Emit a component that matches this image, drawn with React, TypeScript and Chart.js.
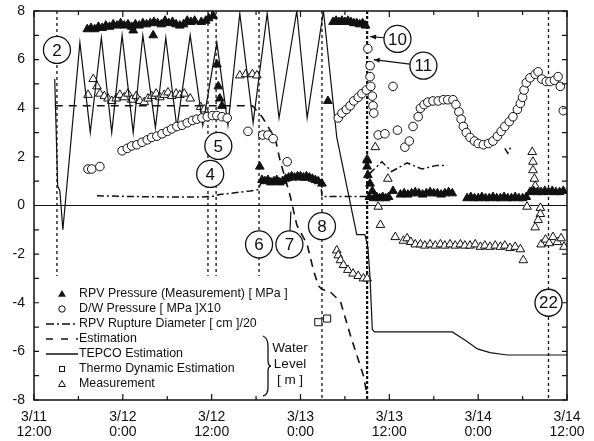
import React, { useEffect, useRef } from "react";
import { Chart, registerables } from "chart.js";

Chart.register(...registerables);

// x = hours after 3/11 12:00, y = value on the left axis
const xTickLabels = [
  ["3/11", "12:00"],
  ["3/12", "0:00"],
  ["3/12", "12:00"],
  ["3/13", "0:00"],
  ["3/13", "12:00"],
  ["3/14", "0:00"],
  ["3/14", "12:00"],
];

const legendLabels = [
  "RPV Pressure (Measurement) [ MPa ]",
  "D/W Pressure [ MPa ]X10",
  "RPV Rupture Diameter [ cm ]/20",
  "Estimation",
  "TEPCO Estimation",
  "Thermo Dynamic Estimation",
  "Measurement",
];
const waterLevelLabel = ["Water", "Level", "[ m ]"];

const rpvPressure: [number, number][] = [
  [7.2, 7.25], [7.7, 7.3], [8.2, 7.25], [8.7, 7.35], [9.2, 7.3], [9.7, 7.4], [10.2, 7.35], [10.7, 7.45],
  [11.2, 7.4], [11.7, 7.5], [12.2, 7.4], [12.7, 7.45], [13.2, 7.35], [13.4, 7.2], [13.7, 7.45], [14.2, 7.4],
  [14.7, 7.5], [15.2, 7.45], [15.7, 7.5], [16.1, 7.0], [16.2, 7.55], [16.7, 7.5], [17.2, 7.45], [17.7, 7.6],
  [18.2, 7.5], [18.7, 7.55], [19.2, 7.45], [19.7, 7.4], [20.2, 7.45], [20.7, 7.6], [21.2, 7.55], [21.7, 7.6],
  [22.6, 7.55], [23.2, 7.6], [23.6, 7.7], [24.2, 7.8], [24.7, 5.8], [24.9, 4.9], [25.1, 4.4], [25.4, 4.1],
  [30.5, 1.6], [30.8, 1.05], [31.2, 1.0], [31.6, 1.05], [32.0, 0.95], [32.4, 1.0], [32.8, 1.05], [33.2, 0.95],
  [33.6, 1.0], [34.0, 1.1], [34.4, 1.15], [34.8, 1.2], [35.2, 1.15], [35.6, 1.2], [36.0, 1.2], [36.4, 1.15],
  [36.8, 1.2], [37.2, 1.15], [37.6, 1.1], [38.0, 1.05], [38.4, 1.0], [38.9, 0.9],
  [39.7, 4.3], [40.4, 7.55], [40.8, 7.6], [41.2, 7.55], [41.6, 7.6], [42.0, 7.55], [42.4, 7.6], [42.8, 7.55],
  [43.2, 7.5], [43.6, 7.5], [44.0, 7.45], [44.4, 7.5], [44.8, 7.4],
  [45.0, 1.85], [45.0, 1.6], [45.1, 1.25], [45.4, 0.9], [45.7, 0.6], [45.3, 0.35], [45.9, 0.3], [46.3, 0.35],
  [46.7, 0.3], [47.1, 0.35], [47.5, 0.3], [47.9, 0.35], [48.5, 0.6],
  [49.5, 0.45], [50.0, 0.5], [50.5, 0.45], [51.0, 0.5], [51.5, 0.55], [52.0, 0.5], [52.5, 0.45], [53.0, 0.5],
  [53.5, 0.55], [54.0, 0.5], [54.5, 0.5], [55.0, 0.45], [55.5, 0.5], [56.0, 0.55], [56.5, 0.5],
  [58.5, 0.3], [59.0, 0.35], [59.5, 0.3], [60.0, 0.3], [60.5, 0.35], [61.0, 0.3], [61.5, 0.3], [62.0, 0.35],
  [62.5, 0.3], [63.0, 0.3], [63.5, 0.35], [64.0, 0.3], [64.5, 0.3], [65.0, 0.35], [65.5, 0.3], [66.0, 0.3],
  [66.5, 0.35], [67.0, 0.55], [67.5, 0.6], [68.0, 0.55], [68.5, 0.55], [69.0, 0.6], [69.5, 0.55], [70.0, 0.6],
  [70.5, 0.55], [71.0, 0.55], [71.5, 0.6],
];

const dwPressure: [number, number][] = [
  [7.3, 1.5], [7.8, 1.5], [8.9, 1.6],
  [11.9, 2.25], [12.6, 2.35], [13.2, 2.45], [13.9, 2.5], [14.6, 2.6], [15.3, 2.7], [15.9, 2.8], [16.6, 2.85],
  [17.3, 2.95], [18.0, 3.05], [18.6, 3.15], [19.3, 3.25], [20.0, 3.3], [20.7, 3.4], [21.4, 3.5], [22.0, 3.55],
  [22.7, 3.6], [23.4, 3.65], [24.1, 3.7], [24.7, 3.7], [25.4, 3.65], [26.1, 3.6],
  [28.9, 3.05], [30.9, 2.9], [31.6, 2.9], [32.3, 2.75], [34.2, 1.8],
  [41.1, 3.6], [41.6, 3.8], [42.2, 3.95], [42.7, 4.1], [43.2, 4.3], [43.8, 4.45], [44.3, 4.6], [44.9, 4.75],
  [45.1, 6.45], [45.4, 5.75], [45.4, 5.3], [45.5, 4.9], [45.7, 4.5], [45.8, 4.1], [45.9, 3.8],
  [48.5, 4.9], [46.5, 2.9], [47.4, 2.95], [49.1, 3.1], [50.1, 2.4], [50.7, 2.65], [51.2, 3.25], [51.9, 3.65],
  [52.2, 4.0], [52.7, 4.15], [53.2, 4.25], [53.9, 4.3], [54.6, 4.3], [55.3, 4.35], [55.9, 4.35], [56.6, 4.35],
  [57.0, 4.15], [57.4, 3.85], [57.7, 3.55], [58.0, 3.25], [58.4, 3.0], [58.9, 2.8], [59.5, 2.65], [60.0, 2.55],
  [60.7, 2.5], [61.4, 2.55], [62.0, 2.65], [62.6, 2.85], [63.1, 3.05], [63.6, 3.25], [64.2, 3.45], [64.7, 3.65],
  [65.3, 3.95], [65.7, 4.2], [66.0, 4.45], [66.2, 4.75], [66.5, 5.05], [67.0, 5.25], [67.7, 5.4], [68.1, 5.5],
  [68.6, 5.2], [69.2, 5.1], [69.7, 5.1], [70.3, 5.15], [70.8, 5.3], [71.1, 4.9], [71.5, 3.9],
];

const ruptureDiameter: [number, number | null][] = [
  [8.5, 0.4], [13.0, 0.37], [18.0, 0.35], [22.4, 0.35], [24.2, 0.38], [25.1, 0.45], [29.2, 0.6], [30.3, 0.65],
  [30.8, 1.05], [38.7, 1.05], [38.9, 0.37], [44.9, 0.37], [45.3, 1.3], [47.0, 1.8], [48.3, 1.4], [50.4, 1.75],
  [52.4, 1.5], [54.4, 1.65], [55.8, 1.65], [56.0, null], [63.6, 2.35], [64.0, 2.15], [64.4, 2.4],
];

const estimation: [number, number][] = [
  [2.8, 4.1], [29.5, 4.1], [30.8, 3.65], [32.6, 2.75], [33.2, 1.9], [34.6, 0.4], [35.5, -0.8], [36.9, -1.6],
  [37.7, -2.6], [38.4, -3.3], [38.9, -3.45], [40.0, -3.55], [41.4, -3.95], [42.7, -5.3], [43.6, -6.15],
  [44.5, -7.0], [45.0, -7.8],
];

const tepcoEstimation: [number, number][] = [
  [2.8, 5.2], [3.2, 0.8], [3.5, 0.6], [3.9, -1.0], [6.2, 6.7], [7.6, 3.0], [9.1, 6.9], [10.5, 3.0], [11.9, 7.0],
  [13.4, 3.0], [14.7, 7.0], [16.4, 3.2], [17.8, 6.9], [19.3, 3.2], [21.1, 7.0], [22.8, 3.3], [24.7, 6.7],
  [26.2, 3.3], [27.8, 7.9], [29.6, 3.4], [31.5, 7.9], [33.1, 3.6], [35.5, 8.0], [36.9, 3.6], [39.1, 8.0],
  [40.9, 2.8], [43.6, -1.2], [44.7, -1.2], [45.1, -1.7], [45.4, -3.0], [45.7, -5.1], [46.0, -5.2], [56.5, -5.2],
  [58.3, -5.55], [59.9, -5.9], [61.6, -6.05], [63.9, -6.15], [72.0, -6.15],
];

const thermoDynamic: [number, number][] = [[38.4, -4.8], [39.6, -4.65]];

const levelMeasurement: [number, number][] = [
  [7.3, 4.55], [8.0, 5.2], [8.5, 4.9], [8.9, 4.6], [9.5, 4.5], [10.0, 4.4], [10.5, 4.3], [11.1, 4.4], [11.6, 4.55],
  [12.2, 4.45], [12.7, 4.6], [13.2, 4.35], [13.8, 4.5], [14.3, 4.3], [14.9, 4.25], [15.4, 4.4], [15.9, 4.5],
  [16.5, 4.6], [17.0, 4.45], [17.6, 4.55], [18.1, 4.65], [18.6, 4.5], [19.2, 4.6], [19.7, 4.55], [20.3, 4.6],
  [21.1, 4.4], [22.5, 4.05], [23.0, 3.95],
  [27.8, 5.35], [28.6, 5.4], [29.5, 5.4], [30.1, 5.35],
  [40.9, -1.85], [41.1, -2.05], [41.4, -2.25], [41.8, -2.45], [42.4, -2.65], [43.1, -2.8], [43.8, -2.9],
  [44.5, -3.0], [45.0, -3.0],
  [45.0, 1.9], [46.1, 2.4], [47.8, 1.1], [46.5, -0.05], [46.8, -0.8], [48.8, -1.3], [49.9, -1.45], [50.4, -1.35],
  [50.9, -1.5], [51.5, -1.6], [52.2, -1.6], [52.8, -1.65], [53.5, -1.6], [54.2, -1.65], [54.9, -1.6], [55.5, -1.65],
  [56.2, -1.6], [56.9, -1.65], [57.6, -1.6], [58.2, -1.65], [58.9, -1.65], [59.6, -1.6], [60.3, -1.7], [60.9, -1.65],
  [61.6, -1.7], [62.3, -1.65], [63.0, -1.7], [63.6, -1.65], [64.3, -1.75], [65.0, -1.7], [65.7, -1.8], [66.1, -2.25],
  [67.3, 2.2], [67.4, 1.8], [67.4, 1.45], [67.6, 1.1], [67.7, 0.8], [66.6, -0.05], [68.4, -0.1], [68.4, -0.35],
  [68.1, -0.6], [67.7, -0.9], [68.5, -1.6], [69.1, -1.4], [69.6, -1.55], [70.1, -1.3], [70.7, -1.5], [71.2, -1.35],
  [71.6, -1.7],
];

// numbered events: dashed time lines and circled labels
const eventLines = [
  { hour: 3.1, from: 8, to: -2.9, heavy: false },
  { hour: 23.5, from: 8, to: -2.9, heavy: false },
  { hour: 24.6, from: 8, to: -2.9, heavy: false },
  { hour: 30.4, from: 8, to: -2.9, heavy: false },
  { hour: 38.9, from: 8, to: -8, heavy: false },
  { hour: 45.0, from: 8, to: -8, heavy: true },
  { hour: 69.5, from: 8, to: -8, heavy: false },
];

const eventCircles = [
  { label: "2", hour: 3.1, level: 6.4 },
  { label: "5", hour: 24.9, level: 2.45 },
  { label: "4", hour: 23.8, level: 1.3 },
  { label: "6", hour: 30.4, level: -1.6 },
  { label: "7", hour: 34.5, level: -1.6, pointTo: [34.7, -0.25], arrow: false },
  { label: "8", hour: 38.9, level: -0.85 },
  { label: "10", hour: 49.1, level: 6.85, pointTo: [45.4, 6.95], arrow: true },
  { label: "11", hour: 52.6, level: 5.75, pointTo: [45.9, 6.0], arrow: true },
  { label: "22", hour: 69.5, level: -4.0 },
];

const FONT = '"Liberation Sans", Arial, sans-serif';
const INK = "#111";

const toPoints = (arr: [number, number | null][]) => arr.map(([h, v]) => ({ x: h, y: v }));

function triangle(ctx: CanvasRenderingContext2D, cx: number, cy: number, r: number) {
  ctx.beginPath();
  ctx.moveTo(cx, cy - r);
  ctx.lineTo(cx + r * 0.866, cy + r * 0.5);
  ctx.lineTo(cx - r * 0.866, cy + r * 0.5);
  ctx.closePath();
}

const decorPlugin = {
  id: "decor",
  beforeDatasetsDraw(chart: any) {
    const { ctx, chartArea: a, scales } = chart;
    const { x, y } = scales;
    ctx.save();
    ctx.strokeStyle = INK;
    ctx.lineWidth = 1;
    const y0 = y.getPixelForValue(0);
    ctx.beginPath();
    ctx.moveTo(a.left, y0);
    ctx.lineTo(a.right, y0);
    ctx.stroke();
    for (const e of eventLines) {
      ctx.setLineDash(e.heavy ? [3, 2] : [3, 3]);
      ctx.lineWidth = e.heavy ? 2.2 : 1.3;
      const px = x.getPixelForValue(e.hour);
      ctx.beginPath();
      ctx.moveTo(px, y.getPixelForValue(e.from));
      ctx.lineTo(px, y.getPixelForValue(e.to));
      ctx.stroke();
    }
    ctx.restore();
  },
  afterDatasetsDraw(chart: any) {
    const { ctx, chartArea: a, scales } = chart;
    const { x, y } = scales;
    ctx.save();
    ctx.strokeStyle = INK;
    ctx.fillStyle = INK;

    // frame
    ctx.lineWidth = 1.5;
    ctx.strokeRect(a.left, a.top, a.right - a.left, a.bottom - a.top);

    // inward ticks on all four sides
    ctx.lineWidth = 1.2;
    for (let h = 0; h <= 72; h += 6) {
      const px = x.getPixelForValue(h);
      const len = h % 12 === 0 ? 6 : 4;
      ctx.beginPath();
      ctx.moveTo(px, a.bottom);
      ctx.lineTo(px, a.bottom - len);
      ctx.moveTo(px, a.top);
      ctx.lineTo(px, a.top + len);
      ctx.stroke();
    }
    for (let v = -8; v <= 8; v += 1) {
      const py = y.getPixelForValue(v);
      ctx.beginPath();
      ctx.moveTo(a.left, py);
      ctx.lineTo(a.left + 5, py);
      ctx.moveTo(a.right, py);
      ctx.lineTo(a.right - 5, py);
      ctx.stroke();
    }

    // circled event numbers
    const r = 13.5;
    ctx.font = `17px ${FONT}`;
    ctx.textAlign = "center";
    ctx.textBaseline = "middle";
    for (const c of eventCircles) {
      const cx = x.getPixelForValue(c.hour);
      const cy = y.getPixelForValue(c.level);
      if (c.pointTo) {
        const tx = x.getPixelForValue(c.pointTo[0]);
        const ty = y.getPixelForValue(c.pointTo[1]);
        const d = Math.hypot(tx - cx, ty - cy);
        const ux = (tx - cx) / d;
        const uy = (ty - cy) / d;
        ctx.lineWidth = 1.2;
        ctx.beginPath();
        ctx.moveTo(cx + ux * r, cy + uy * r);
        ctx.lineTo(tx, ty);
        ctx.stroke();
        if (c.arrow) {
          ctx.beginPath();
          ctx.moveTo(tx, ty);
          ctx.lineTo(tx - ux * 6 - uy * 2.5, ty - uy * 6 + ux * 2.5);
          ctx.lineTo(tx - ux * 6 + uy * 2.5, ty - uy * 6 - ux * 2.5);
          ctx.closePath();
          ctx.fill();
        }
      }
      ctx.beginPath();
      ctx.arc(cx, cy, r, 0, Math.PI * 2);
      ctx.fillStyle = "#fff";
      ctx.fill();
      ctx.lineWidth = 1.3;
      ctx.stroke();
      ctx.fillStyle = INK;
      ctx.fillText(c.label, cx, cy + 1);
    }

    // legend inside the plot, lower left
    const sx = a.left + 28;
    const l0 = a.left + 12;
    const l1 = a.left + 44;
    const tx = a.left + 44;
    const rows = [294, 309, 324, 339, 354, 369, 384];
    ctx.font = `12.4px ${FONT}`;
    ctx.textAlign = "left";
    ctx.textBaseline = "middle";
    legendLabels.forEach((label, i) => {
      const ry = rows[i];
      ctx.lineWidth = 1;
      ctx.setLineDash([]);
      if (i === 0) {
        triangle(ctx, sx, ry + 0.5, 4.5);
        ctx.fill();
      } else if (i === 1) {
        ctx.beginPath();
        ctx.arc(sx, ry, 3.2, 0, Math.PI * 2);
        ctx.stroke();
      } else if (i === 5) {
        ctx.strokeRect(sx - 2.5, ry - 2.5, 5, 5);
      } else if (i === 6) {
        triangle(ctx, sx, ry + 0.5, 4);
        ctx.stroke();
      } else {
        ctx.lineWidth = 1.5;
        ctx.setLineDash(i === 2 ? [8, 3, 2, 3] : i === 3 ? [7, 8] : []);
        ctx.beginPath();
        ctx.moveTo(l0, ry);
        ctx.lineTo(l1, ry);
        ctx.stroke();
        ctx.setLineDash([]);
      }
      ctx.fillText(label, tx + 1, ry);
    });

    // brace and "Water Level [ m ]"
    const bx = 263;
    ctx.lineWidth = 1.3;
    ctx.beginPath();
    ctx.moveTo(bx, 336);
    ctx.quadraticCurveTo(bx + 5, 338, bx + 5, 346);
    ctx.lineTo(bx + 5, 360);
    ctx.quadraticCurveTo(bx + 5, 366, bx + 8, 366);
    ctx.quadraticCurveTo(bx + 5, 366, bx + 5, 372);
    ctx.lineTo(bx + 5, 387);
    ctx.quadraticCurveTo(bx + 5, 395, bx, 396);
    ctx.stroke();
    ctx.font = `13.5px ${FONT}`;
    ctx.textAlign = "center";
    waterLevelLabel.forEach((t, i) => ctx.fillText(t, 290, 348 + i * 16));
    ctx.restore();
  },
};

const App: React.FC = () => {
  const canvasRef = useRef<HTMLCanvasElement>(null);

  useEffect(() => {
    const canvas = canvasRef.current;
    if (!canvas) return;
    const tickFont = { family: FONT, size: 14 };

    const chart = new Chart(canvas, {
      type: "scatter",
      data: {
        datasets: [
          {
            label: legendLabels[0],
            data: toPoints(rpvPressure),
            pointStyle: "triangle",
            pointRadius: 5,
            backgroundColor: INK,
            borderColor: INK,
            borderWidth: 1,
          },
          {
            label: legendLabels[1],
            data: toPoints(dwPressure),
            pointStyle: "circle",
            pointRadius: 4.3,
            backgroundColor: "#fff",
            borderColor: INK,
            borderWidth: 1,
          },
          {
            label: legendLabels[2],
            data: toPoints(ruptureDiameter),
            showLine: true,
            pointRadius: 0,
            borderColor: INK,
            borderWidth: 1.5,
            borderDash: [7, 3, 2, 3],
          },
          {
            label: legendLabels[3],
            data: toPoints(estimation),
            showLine: true,
            pointRadius: 0,
            borderColor: INK,
            borderWidth: 1.6,
            borderDash: [8, 6],
          },
          {
            label: legendLabels[4],
            data: toPoints(tepcoEstimation),
            showLine: true,
            pointRadius: 0,
            borderColor: INK,
            borderWidth: 1.2,
          },
          {
            label: legendLabels[5],
            data: toPoints(thermoDynamic),
            pointStyle: "rect",
            pointRadius: 5,
            backgroundColor: "#fff",
            borderColor: INK,
            borderWidth: 1,
          },
          {
            label: legendLabels[6],
            data: toPoints(levelMeasurement),
            pointStyle: "triangle",
            pointRadius: 5,
            backgroundColor: "#fff",
            borderColor: INK,
            borderWidth: 1,
          },
        ],
      },
      options: {
        animation: false,
        responsive: true,
        maintainAspectRatio: false,
        layout: { padding: { top: 11, right: 27, left: 0, bottom: 0 } },
        plugins: { legend: { display: false }, tooltip: { enabled: false } },
        scales: {
          x: {
            type: "linear",
            min: 0,
            max: 72,
            grid: { display: false, drawTicks: false },
            border: { display: false },
            ticks: {
              stepSize: 12,
              autoSkip: false,
              maxRotation: 0,
              padding: 10,
              color: INK,
              font: { ...tickFont, lineHeight: 1.07 },
              callback: (v: any) => xTickLabels[Math.round(Number(v) / 12)],
            },
            afterFit: (s: any) => {
              s.height = 41;
              s.paddingLeft = 0;
              s.paddingRight = 0;
            },
          },
          y: {
            min: -8,
            max: 8,
            grid: { display: false, drawTicks: false },
            border: { display: false },
            ticks: { stepSize: 2, padding: 9, color: INK, font: tickFont },
            afterFit: (s: any) => {
              s.width = 34;
              s.paddingTop = 0;
              s.paddingBottom = 0;
            },
          },
        },
      },
      plugins: [decorPlugin],
    });

    return () => {
      chart.destroy();
    };
  }, []);

  return (
    <div style={{ position: "absolute", left: 0, top: 0, width: 594, height: 441, background: "#fff" }}>
      <canvas ref={canvasRef}></canvas>
    </div>
  );
};

export default App;
